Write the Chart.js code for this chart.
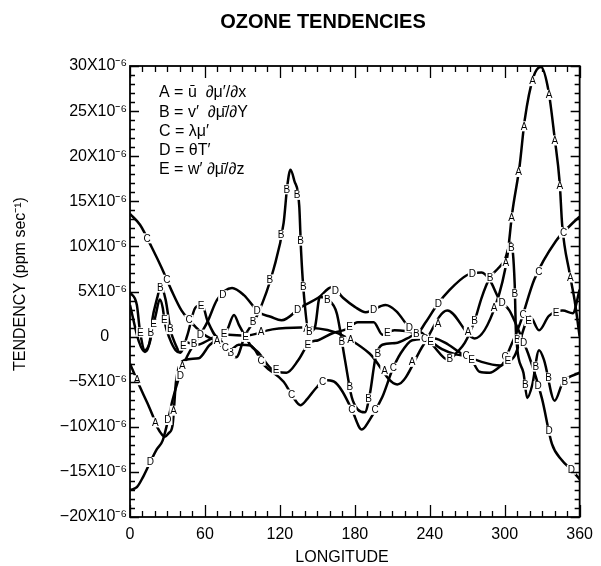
<!DOCTYPE html>
<html><head><meta charset="utf-8">
<script src="https://cdn.jsdelivr.net/npm/chart.js@4/dist/chart.umd.min.js"></script>
<style>html,body{margin:0;padding:0;background:#fff}#wrap{width:601px;height:566px;position:relative}</style>
</head><body><div id="wrap"><canvas id="c" width="601" height="566"></canvas></div>
<script>
// values in units of 10^-6 ppm/sec, longitude in degrees
const seriesLetters = ['A','B','C','D','E'];
const legendLines = ['A = ū  ∂μ′/∂x','B = v′  ∂μ̄/∂Y','C = λμ′','D = θT′','E = w′ ∂μ̄/∂z'];
const xTicks = [0,60,120,180,240,300,360];
const yTicks = [-20,-15,-10,-5,0,5,10,15,20,25,30];

const lonA = [0,8,14,18,22,28,31,34,37,44,55,64,79,92,114,137,164,177,192,214,235,254,276,293,302,306,312,316,323,329,335,340,344,346,352,356,360];
const valA = [-3.0,-5.6,-7.4,-8.7,-10.1,-11.1,-10.7,-9.9,-4.8,-2.6,-2.4,-0.9,0.2,0.1,0.8,1.0,0.5,-0.4,-1.9,-5.3,-0.9,2.9,-0.2,3.6,8.8,13.7,19.0,24.0,28.8,29.9,27.3,22.0,17.1,12.4,7.0,4.0,0.0];

const lonB = [0,7,12,16,17.5,22,24.6,28.5,32.5,36.5,40,43,54,64,69,78,85,92,102,115,123,126,128.5,131.5,135.5,137,139.5,143.5,148,152,158.5,165.5,172,177.5,182.5,188,192,196.5,202,213,222,232,242,255,262,268,276,281.5,288,295,300,305,308,309,315,318,322,327.5,331.5,340,346.5,360];
const valB = [3.5,-0.5,-1.7,-0.4,1.6,4.4,5.6,4.1,0.7,-0.9,-1.7,-0.6,-0.9,-0.3,0.0,-1.5,-2.3,0.1,2.4,7.5,12.6,16.8,18.5,17.3,14.5,9.4,4.2,0.5,1.0,4.4,4.1,2.6,-2.5,-6.7,-8.1,-8.4,-6.4,-2.4,-0.9,-0.7,-0.2,0.5,-0.9,-2.6,-1.7,-0.7,1.8,4.3,6.5,7.6,8.5,10.4,5.8,0.5,-4.0,-6.8,-5.4,-1.5,-2.6,-7.1,-5.1,-4.0];

const lonC = [0,8,17.4,25.4,33.3,41.2,47.6,52.3,59.5,67.4,80,87,96.7,107,123,131,136.4,142,149,156,163.4,169.7,177.6,185.6,192,202,210,216.5,226,243.5,255,265.7,281.5,296.6,305.3,312.4,323.6,341,353,360];
const valC = [13.6,12.4,9.9,7.6,5.1,2.9,1.8,1.1,0.2,-0.4,-1.5,-0.9,-1.0,-3.1,-5.0,-6.8,-7.6,-6.9,-5.7,-4.8,-5.0,-6.0,-8.1,-10.3,-9.2,-6.7,-3.7,-1.9,-0.4,-0.2,-0.9,-1.9,-2.8,-3.2,-0.9,1.5,6.3,10.6,12.4,13.3];

const lonD = [0,5.5,10.3,15.9,21.4,26.2,31.7,34.1,44.4,57.1,61.9,69.8,81.7,91.2,103.1,112.6,121.3,137.2,150.7,161.8,170.5,180,188.7,204.6,213.3,223.6,230,236.3,245.8,256.1,269.6,281.5,287.9,295.8,303.7,311.7,318.8,329.9,337.8,345.8,353.7,360];
const valD = [-17.0,-16.7,-15.6,-14.0,-12.5,-11.5,-8.5,-7.0,-2.6,0.4,1.6,4.1,5.4,4.6,2.7,2.2,1.8,3.3,4.3,5.5,4.3,3.3,2.7,3.5,2.8,1.0,0.4,1.5,3.5,5.2,6.8,7.1,6.3,4.1,2.9,0.5,-1.9,-6.9,-11.9,-13.7,-14.8,-15.8];

const lonE = [0,5.5,7.9,11.9,15.9,17.4,20.6,23.8,26.2,27.8,31.7,36.5,40.4,46,52.3,57.9,61.9,71.4,77.7,83.3,87.2,92,96.7,103.1,112.6,125.3,134.8,143.5,150.7,162.6,172.9,182.4,195.1,202.2,211.7,227.6,239.5,249.8,261.7,272,279.9,287.9,297.4,307.7,320.4,327.5,335.4,346.5,354.5,360];
const valE = [4.9,3.5,0.7,-1.5,-0.6,0.4,2.4,4.1,3.2,1.6,-0.2,-1.5,-1.8,0.2,3.2,3.5,1.8,-0.2,0.7,2.4,1.3,0.1,-1.0,-1.8,-3.5,-4.0,-2.6,-0.7,-0.4,0.4,0.8,1.6,1.6,0.2,0.7,0.4,-0.4,-1.4,-2.0,-2.3,-3.9,-4.0,-3.2,-2.2,2.2,0.7,2.3,2.9,2.6,5.2];

const FONT = '"Liberation Sans", Arial, Helvetica, sans-serif';
const lons = [lonA,lonB,lonC,lonD,lonE];
const vals = [valA,valB,valC,valD,valE];

const datasets = lons.map((lo,i)=>({
  label: seriesLetters[i],
  data: lo.map((x,j)=>({x:x,y:vals[i][j]})),
  showLine: true,
  borderColor: '#000',
  borderWidth: 2.5,
  pointRadius: 0,
  cubicInterpolationMode: 'monotone',
  fill: false
}));

const letterPlugin = {
  id: 'letters',
  afterDatasetsDraw(chart){
    const ctx = chart.ctx;
    ctx.save();
    ctx.font = '10px ' + FONT;
    ctx.textAlign = 'center';
    ctx.textBaseline = 'middle';
    chart.data.datasets.forEach((ds,di)=>{
      const pts = chart.getDatasetMeta(di).data.map(p=>({x:p.x,y:p.y}));
      const spacing = 46;
      let next = 18 + di*6;
      let acc = 0;
      for (let i=1;i<pts.length;i++){
        const a=pts[i-1], b=pts[i];
        const len = Math.hypot(b.x-a.x,b.y-a.y);
        while (next <= acc+len){
          const t = (next-acc)/len;
          const x = a.x+(b.x-a.x)*t, y = a.y+(b.y-a.y)*t;
          if (x > chart.chartArea.left+6 && x < chart.chartArea.right-6){
            const w = ctx.measureText(ds.label).width;
            ctx.fillStyle = '#fff';
            ctx.fillRect(x-w/2-1, y-5, w+2, 10);
            ctx.fillStyle = '#000';
            ctx.fillText(ds.label, x, y+0.5);
          }
          next += spacing;
        }
        acc += len;
      }
    });
    ctx.restore();
  }
};

const framePlugin = {
  id: 'frame',
  afterDraw(chart){
    const ctx = chart.ctx;
    const {left,right,top,bottom} = chart.chartArea;
    const xs = chart.scales.x, ys = chart.scales.y;
    ctx.save();
    ctx.strokeStyle = '#000';
    ctx.lineWidth = 1.3;
    ctx.beginPath();
    for (let v=0; v<=360; v+=10){
      const px = Math.round(xs.getPixelForValue(v))+0.5;
      const L = (v%60===0) ? 12 : 6;
      ctx.moveTo(px,bottom); ctx.lineTo(px,bottom-L);
      ctx.moveTo(px,top); ctx.lineTo(px,top+L);
    }
    for (let v=-20; v<=30; v+=1){
      const py = Math.round(ys.getPixelForValue(v))+0.5;
      const L = (v%5===0) ? 9 : 5;
      ctx.moveTo(left,py); ctx.lineTo(left+L,py);
      ctx.moveTo(right,py); ctx.lineTo(right-L,py);
    }
    ctx.stroke();
    ctx.lineWidth = 1.8;
    ctx.strokeRect(left,top,right-left,bottom-top);

    ctx.fillStyle = '#000';
    ctx.font = 'bold 20px ' + FONT;
    ctx.textAlign = 'center';
    ctx.textBaseline = 'middle';
    ctx.fillText('OZONE TENDENCIES', 323, 22);
    ctx.font = '16px ' + FONT;
    ctx.fillText('LONGITUDE', 342, 558);
    ctx.save();
    ctx.translate(21, 284);
    ctx.rotate(-Math.PI/2);
    ctx.fillText('TENDENCY (ppm sec⁻¹)', 0, 0);
    ctx.restore();
    ctx.font = '16px ' + FONT;
    ctx.textAlign = 'left';
    legendLines.forEach((t,i)=>{ ctx.fillText(t, 159, 93 + i*19.2); });
    ctx.restore();
  }
};

new Chart(document.getElementById('c'), {
  type: 'scatter',
  data: { datasets },
  options: {
    responsive: false,
    animation: false,
    devicePixelRatio: 1,
    layout: { padding: { top: 66, right: 15, left: 0, bottom: 0 } },
    plugins: { legend: { display: false }, tooltip: { enabled: false }, title: { display: false } },
    scales: {
      x: {
        type: 'linear', min: 0, max: 360,
        afterBuildTicks(s){ s.ticks = xTicks.map(v=>({value:v})); },
        afterFit(s){ s.height = 49; },
        grid: { display: false, drawTicks: false },
        border: { display: false },
        ticks: { color: '#000', font: { size: 16, family: FONT }, padding: 8, maxRotation: 0, autoSkip: false }
      },
      y: {
        type: 'linear', min: -20, max: 30,
        afterBuildTicks(s){ s.ticks = yTicks.map(v=>({value:v})); },
        afterFit(s){ s.width = 130; },
        grid: { display: false, drawTicks: false },
        border: { display: false },
        ticks: {
          color: '#000', font: { size: 16, family: FONT }, padding: 3, autoSkip: false,
          callback(v){ if (v===0) return '0    '; return (v<0?'−':'') + Math.abs(v) + 'X10⁻⁶'; }
        }
      }
    }
  },
  plugins: [letterPlugin, framePlugin]
});
</script></body></html>
